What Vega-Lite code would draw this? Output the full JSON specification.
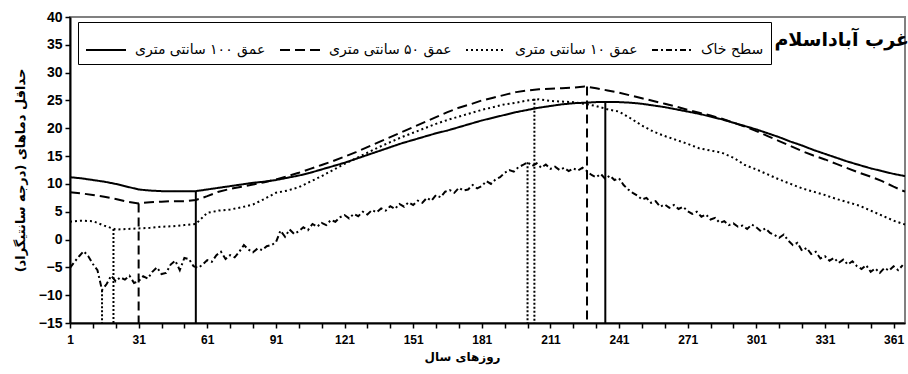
{
"$schema": "https://vega.github.io/schema/vega-lite/v6.json",
"width": 835, "height": 306,
"autosize": {"type": "none"},
"padding": {"left": 70, "top": 17, "right": 3, "bottom": 51},
"background": "white",
"config": {"view": {"stroke": "#808080", "strokeWidth": 2}, "font": "Liberation Sans", "axis": {"labelOverlap": false, "labelBound": false}},
"title": {"text": "غرب آباداسلام", "anchor": "end", "orient": "top", "offset": -40, "font": "DejaVu Sans", "fontSize": 19, "fontWeight": "bold", "color": "black"},
"datasets": {
"lines": [
{"s":"عمق ۱۰۰ سانتی متری","d":1,"v":11.2},{"s":"عمق ۱۰۰ سانتی متری","d":6,"v":11.0},{"s":"عمق ۱۰۰ سانتی متری","d":11,"v":10.7},{"s":"عمق ۱۰۰ سانتی متری","d":16,"v":10.4},{"s":"عمق ۱۰۰ سانتی متری","d":21,"v":10.0},{"s":"عمق ۱۰۰ سانتی متری","d":26,"v":9.5},{"s":"عمق ۱۰۰ سانتی متری","d":31,"v":9.0},{"s":"عمق ۱۰۰ سانتی متری","d":36,"v":8.8},{"s":"عمق ۱۰۰ سانتی متری","d":41,"v":8.7},{"s":"عمق ۱۰۰ سانتی متری","d":46,"v":8.7},{"s":"عمق ۱۰۰ سانتی متری","d":51,"v":8.7},{"s":"عمق ۱۰۰ سانتی متری","d":56,"v":8.7},{"s":"عمق ۱۰۰ سانتی متری","d":61,"v":9.0},{"s":"عمق ۱۰۰ سانتی متری","d":66,"v":9.3},{"s":"عمق ۱۰۰ سانتی متری","d":71,"v":9.6},{"s":"عمق ۱۰۰ سانتی متری","d":76,"v":9.9},{"s":"عمق ۱۰۰ سانتی متری","d":81,"v":10.2},{"s":"عمق ۱۰۰ سانتی متری","d":86,"v":10.4},{"s":"عمق ۱۰۰ سانتی متری","d":91,"v":10.7},{"s":"عمق ۱۰۰ سانتی متری","d":96,"v":11.1},{"s":"عمق ۱۰۰ سانتی متری","d":101,"v":11.5},{"s":"عمق ۱۰۰ سانتی متری","d":106,"v":12.0},{"s":"عمق ۱۰۰ سانتی متری","d":111,"v":12.6},{"s":"عمق ۱۰۰ سانتی متری","d":116,"v":13.2},{"s":"عمق ۱۰۰ سانتی متری","d":121,"v":13.8},{"s":"عمق ۱۰۰ سانتی متری","d":126,"v":14.5},{"s":"عمق ۱۰۰ سانتی متری","d":131,"v":15.2},{"s":"عمق ۱۰۰ سانتی متری","d":136,"v":15.9},{"s":"عمق ۱۰۰ سانتی متری","d":141,"v":16.6},{"s":"عمق ۱۰۰ سانتی متری","d":146,"v":17.3},{"s":"عمق ۱۰۰ سانتی متری","d":151,"v":17.9},{"s":"عمق ۱۰۰ سانتی متری","d":156,"v":18.5},{"s":"عمق ۱۰۰ سانتی متری","d":161,"v":19.1},{"s":"عمق ۱۰۰ سانتی متری","d":166,"v":19.6},{"s":"عمق ۱۰۰ سانتی متری","d":171,"v":20.2},{"s":"عمق ۱۰۰ سانتی متری","d":176,"v":20.8},{"s":"عمق ۱۰۰ سانتی متری","d":181,"v":21.4},{"s":"عمق ۱۰۰ سانتی متری","d":186,"v":21.9},{"s":"عمق ۱۰۰ سانتی متری","d":191,"v":22.4},{"s":"عمق ۱۰۰ سانتی متری","d":196,"v":22.9},{"s":"عمق ۱۰۰ سانتی متری","d":201,"v":23.3},{"s":"عمق ۱۰۰ سانتی متری","d":206,"v":23.7},{"s":"عمق ۱۰۰ سانتی متری","d":211,"v":24.0},{"s":"عمق ۱۰۰ سانتی متری","d":216,"v":24.3},{"s":"عمق ۱۰۰ سانتی متری","d":221,"v":24.5},{"s":"عمق ۱۰۰ سانتی متری","d":226,"v":24.6},{"s":"عمق ۱۰۰ سانتی متری","d":231,"v":24.7},{"s":"عمق ۱۰۰ سانتی متری","d":236,"v":24.7},{"s":"عمق ۱۰۰ سانتی متری","d":241,"v":24.7},{"s":"عمق ۱۰۰ سانتی متری","d":246,"v":24.6},{"s":"عمق ۱۰۰ سانتی متری","d":251,"v":24.4},{"s":"عمق ۱۰۰ سانتی متری","d":256,"v":24.1},{"s":"عمق ۱۰۰ سانتی متری","d":261,"v":23.8},{"s":"عمق ۱۰۰ سانتی متری","d":266,"v":23.4},{"s":"عمق ۱۰۰ سانتی متری","d":271,"v":23.0},{"s":"عمق ۱۰۰ سانتی متری","d":276,"v":22.6},{"s":"عمق ۱۰۰ سانتی متری","d":281,"v":22.1},{"s":"عمق ۱۰۰ سانتی متری","d":286,"v":21.6},{"s":"عمق ۱۰۰ سانتی متری","d":291,"v":21.0},{"s":"عمق ۱۰۰ سانتی متری","d":296,"v":20.4},{"s":"عمق ۱۰۰ سانتی متری","d":301,"v":19.8},{"s":"عمق ۱۰۰ سانتی متری","d":306,"v":19.1},{"s":"عمق ۱۰۰ سانتی متری","d":311,"v":18.4},{"s":"عمق ۱۰۰ سانتی متری","d":316,"v":17.6},{"s":"عمق ۱۰۰ سانتی متری","d":321,"v":16.9},{"s":"عمق ۱۰۰ سانتی متری","d":326,"v":16.1},{"s":"عمق ۱۰۰ سانتی متری","d":331,"v":15.4},{"s":"عمق ۱۰۰ سانتی متری","d":336,"v":14.7},{"s":"عمق ۱۰۰ سانتی متری","d":341,"v":14.0},{"s":"عمق ۱۰۰ سانتی متری","d":346,"v":13.4},{"s":"عمق ۱۰۰ سانتی متری","d":351,"v":12.8},{"s":"عمق ۱۰۰ سانتی متری","d":356,"v":12.3},{"s":"عمق ۱۰۰ سانتی متری","d":361,"v":11.8},{"s":"عمق ۱۰۰ سانتی متری","d":366,"v":11.4},
{"s":"عمق ۵۰ سانتی متری","d":1,"v":8.5},{"s":"عمق ۵۰ سانتی متری","d":6,"v":8.3},{"s":"عمق ۵۰ سانتی متری","d":11,"v":8.0},{"s":"عمق ۵۰ سانتی متری","d":16,"v":7.7},{"s":"عمق ۵۰ سانتی متری","d":21,"v":7.3},{"s":"عمق ۵۰ سانتی متری","d":26,"v":6.8},{"s":"عمق ۵۰ سانتی متری","d":31,"v":6.5},{"s":"عمق ۵۰ سانتی متری","d":36,"v":6.7},{"s":"عمق ۵۰ سانتی متری","d":41,"v":6.8},{"s":"عمق ۵۰ سانتی متری","d":46,"v":6.9},{"s":"عمق ۵۰ سانتی متری","d":51,"v":6.9},{"s":"عمق ۵۰ سانتی متری","d":56,"v":7.1},{"s":"عمق ۵۰ سانتی متری","d":61,"v":7.8},{"s":"عمق ۵۰ سانتی متری","d":66,"v":8.6},{"s":"عمق ۵۰ سانتی متری","d":71,"v":9.1},{"s":"عمق ۵۰ سانتی متری","d":76,"v":9.5},{"s":"عمق ۵۰ سانتی متری","d":81,"v":9.9},{"s":"عمق ۵۰ سانتی متری","d":86,"v":10.3},{"s":"عمق ۵۰ سانتی متری","d":91,"v":10.8},{"s":"عمق ۵۰ سانتی متری","d":96,"v":11.4},{"s":"عمق ۵۰ سانتی متری","d":101,"v":12.0},{"s":"عمق ۵۰ سانتی متری","d":106,"v":12.7},{"s":"عمق ۵۰ سانتی متری","d":111,"v":13.4},{"s":"عمق ۵۰ سانتی متری","d":116,"v":14.1},{"s":"عمق ۵۰ سانتی متری","d":121,"v":14.9},{"s":"عمق ۵۰ سانتی متری","d":126,"v":15.7},{"s":"عمق ۵۰ سانتی متری","d":131,"v":16.6},{"s":"عمق ۵۰ سانتی متری","d":136,"v":17.5},{"s":"عمق ۵۰ سانتی متری","d":141,"v":18.4},{"s":"عمق ۵۰ سانتی متری","d":146,"v":19.3},{"s":"عمق ۵۰ سانتی متری","d":151,"v":20.2},{"s":"عمق ۵۰ سانتی متری","d":156,"v":21.1},{"s":"عمق ۵۰ سانتی متری","d":161,"v":22.0},{"s":"عمق ۵۰ سانتی متری","d":166,"v":22.9},{"s":"عمق ۵۰ سانتی متری","d":171,"v":23.7},{"s":"عمق ۵۰ سانتی متری","d":176,"v":24.3},{"s":"عمق ۵۰ سانتی متری","d":181,"v":25.0},{"s":"عمق ۵۰ سانتی متری","d":186,"v":25.5},{"s":"عمق ۵۰ سانتی متری","d":191,"v":26.0},{"s":"عمق ۵۰ سانتی متری","d":196,"v":26.5},{"s":"عمق ۵۰ سانتی متری","d":201,"v":26.8},{"s":"عمق ۵۰ سانتی متری","d":206,"v":27.0},{"s":"عمق ۵۰ سانتی متری","d":211,"v":27.1},{"s":"عمق ۵۰ سانتی متری","d":216,"v":27.2},{"s":"عمق ۵۰ سانتی متری","d":221,"v":27.3},{"s":"عمق ۵۰ سانتی متری","d":226,"v":27.5},{"s":"عمق ۵۰ سانتی متری","d":231,"v":27.2},{"s":"عمق ۵۰ سانتی متری","d":236,"v":26.8},{"s":"عمق ۵۰ سانتی متری","d":241,"v":26.4},{"s":"عمق ۵۰ سانتی متری","d":246,"v":25.9},{"s":"عمق ۵۰ سانتی متری","d":251,"v":25.4},{"s":"عمق ۵۰ سانتی متری","d":256,"v":24.9},{"s":"عمق ۵۰ سانتی متری","d":261,"v":24.4},{"s":"عمق ۵۰ سانتی متری","d":266,"v":23.9},{"s":"عمق ۵۰ سانتی متری","d":271,"v":23.3},{"s":"عمق ۵۰ سانتی متری","d":276,"v":22.8},{"s":"عمق ۵۰ سانتی متری","d":281,"v":22.3},{"s":"عمق ۵۰ سانتی متری","d":286,"v":21.7},{"s":"عمق ۵۰ سانتی متری","d":291,"v":21.0},{"s":"عمق ۵۰ سانتی متری","d":296,"v":20.3},{"s":"عمق ۵۰ سانتی متری","d":301,"v":19.5},{"s":"عمق ۵۰ سانتی متری","d":306,"v":18.6},{"s":"عمق ۵۰ سانتی متری","d":311,"v":17.7},{"s":"عمق ۵۰ سانتی متری","d":316,"v":16.8},{"s":"عمق ۵۰ سانتی متری","d":321,"v":15.9},{"s":"عمق ۵۰ سانتی متری","d":326,"v":15.1},{"s":"عمق ۵۰ سانتی متری","d":331,"v":14.4},{"s":"عمق ۵۰ سانتی متری","d":336,"v":13.6},{"s":"عمق ۵۰ سانتی متری","d":341,"v":12.8},{"s":"عمق ۵۰ سانتی متری","d":346,"v":12.0},{"s":"عمق ۵۰ سانتی متری","d":351,"v":11.3},{"s":"عمق ۵۰ سانتی متری","d":356,"v":10.5},{"s":"عمق ۵۰ سانتی متری","d":361,"v":9.5},{"s":"عمق ۵۰ سانتی متری","d":366,"v":8.6},
{"s":"عمق ۱۰ سانتی متری","d":1,"v":3.2},{"s":"عمق ۱۰ سانتی متری","d":6,"v":3.4},{"s":"عمق ۱۰ سانتی متری","d":11,"v":3.3},{"s":"عمق ۱۰ سانتی متری","d":16,"v":2.5},{"s":"عمق ۱۰ سانتی متری","d":21,"v":1.8},{"s":"عمق ۱۰ سانتی متری","d":26,"v":1.9},{"s":"عمق ۱۰ سانتی متری","d":31,"v":2.0},{"s":"عمق ۱۰ سانتی متری","d":36,"v":2.1},{"s":"عمق ۱۰ سانتی متری","d":41,"v":2.3},{"s":"عمق ۱۰ سانتی متری","d":46,"v":2.4},{"s":"عمق ۱۰ سانتی متری","d":51,"v":2.6},{"s":"عمق ۱۰ سانتی متری","d":56,"v":2.8},{"s":"عمق ۱۰ سانتی متری","d":61,"v":4.8},{"s":"عمق ۱۰ سانتی متری","d":66,"v":5.2},{"s":"عمق ۱۰ سانتی متری","d":71,"v":5.4},{"s":"عمق ۱۰ سانتی متری","d":76,"v":5.8},{"s":"عمق ۱۰ سانتی متری","d":81,"v":6.3},{"s":"عمق ۱۰ سانتی متری","d":86,"v":7.3},{"s":"عمق ۱۰ سانتی متری","d":91,"v":8.4},{"s":"عمق ۱۰ سانتی متری","d":96,"v":8.8},{"s":"عمق ۱۰ سانتی متری","d":101,"v":9.4},{"s":"عمق ۱۰ سانتی متری","d":106,"v":10.4},{"s":"عمق ۱۰ سانتی متری","d":111,"v":11.4},{"s":"عمق ۱۰ سانتی متری","d":116,"v":12.5},{"s":"عمق ۱۰ سانتی متری","d":121,"v":13.6},{"s":"عمق ۱۰ سانتی متری","d":126,"v":14.6},{"s":"عمق ۱۰ سانتی متری","d":131,"v":15.6},{"s":"عمق ۱۰ سانتی متری","d":136,"v":16.6},{"s":"عمق ۱۰ سانتی متری","d":141,"v":17.5},{"s":"عمق ۱۰ سانتی متری","d":146,"v":18.4},{"s":"عمق ۱۰ سانتی متری","d":151,"v":19.2},{"s":"عمق ۱۰ سانتی متری","d":156,"v":20.0},{"s":"عمق ۱۰ سانتی متری","d":161,"v":20.8},{"s":"عمق ۱۰ سانتی متری","d":166,"v":21.5},{"s":"عمق ۱۰ سانتی متری","d":171,"v":22.1},{"s":"عمق ۱۰ سانتی متری","d":176,"v":22.7},{"s":"عمق ۱۰ سانتی متری","d":181,"v":23.3},{"s":"عمق ۱۰ سانتی متری","d":186,"v":23.8},{"s":"عمق ۱۰ سانتی متری","d":191,"v":24.3},{"s":"عمق ۱۰ سانتی متری","d":196,"v":24.6},{"s":"عمق ۱۰ سانتی متری","d":201,"v":25.0},{"s":"عمق ۱۰ سانتی متری","d":206,"v":25.2},{"s":"عمق ۱۰ سانتی متری","d":211,"v":24.9},{"s":"عمق ۱۰ سانتی متری","d":216,"v":24.8},{"s":"عمق ۱۰ سانتی متری","d":221,"v":24.7},{"s":"عمق ۱۰ سانتی متری","d":226,"v":24.4},{"s":"عمق ۱۰ سانتی متری","d":231,"v":24.0},{"s":"عمق ۱۰ سانتی متری","d":236,"v":23.4},{"s":"عمق ۱۰ سانتی متری","d":241,"v":23.0},{"s":"عمق ۱۰ سانتی متری","d":246,"v":21.8},{"s":"عمق ۱۰ سانتی متری","d":251,"v":20.5},{"s":"عمق ۱۰ سانتی متری","d":256,"v":19.4},{"s":"عمق ۱۰ سانتی متری","d":261,"v":18.6},{"s":"عمق ۱۰ سانتی متری","d":266,"v":17.9},{"s":"عمق ۱۰ سانتی متری","d":271,"v":17.2},{"s":"عمق ۱۰ سانتی متری","d":276,"v":16.4},{"s":"عمق ۱۰ سانتی متری","d":281,"v":16.0},{"s":"عمق ۱۰ سانتی متری","d":286,"v":15.6},{"s":"عمق ۱۰ سانتی متری","d":291,"v":14.7},{"s":"عمق ۱۰ سانتی متری","d":296,"v":13.4},{"s":"عمق ۱۰ سانتی متری","d":301,"v":12.6},{"s":"عمق ۱۰ سانتی متری","d":306,"v":11.7},{"s":"عمق ۱۰ سانتی متری","d":311,"v":10.8},{"s":"عمق ۱۰ سانتی متری","d":316,"v":10.0},{"s":"عمق ۱۰ سانتی متری","d":321,"v":9.2},{"s":"عمق ۱۰ سانتی متری","d":326,"v":8.6},{"s":"عمق ۱۰ سانتی متری","d":331,"v":8.0},{"s":"عمق ۱۰ سانتی متری","d":336,"v":7.3},{"s":"عمق ۱۰ سانتی متری","d":341,"v":6.7},{"s":"عمق ۱۰ سانتی متری","d":346,"v":6.1},{"s":"عمق ۱۰ سانتی متری","d":351,"v":5.2},{"s":"عمق ۱۰ سانتی متری","d":356,"v":4.3},{"s":"عمق ۱۰ سانتی متری","d":361,"v":3.4},{"s":"عمق ۱۰ سانتی متری","d":366,"v":2.7},
{"s":"سطح خاک","d":1,"v":-5.1},{"s":"سطح خاک","d":3,"v":-4.0},{"s":"سطح خاک","d":5,"v":-3.0},{"s":"سطح خاک","d":7,"v":-2.1},{"s":"سطح خاک","d":9,"v":-3.0},{"s":"سطح خاک","d":11,"v":-4.4},{"s":"سطح خاک","d":13,"v":-5.5},{"s":"سطح خاک","d":15,"v":-9.1},{"s":"سطح خاک","d":17,"v":-8.0},{"s":"سطح خاک","d":19,"v":-6.5},{"s":"سطح خاک","d":21,"v":-7.5},{"s":"سطح خاک","d":23,"v":-6.8},{"s":"سطح خاک","d":25,"v":-7.2},{"s":"سطح خاک","d":27,"v":-6.5},{"s":"سطح خاک","d":29,"v":-7.8},{"s":"سطح خاک","d":31,"v":-7.5},{"s":"سطح خاک","d":33,"v":-6.6},{"s":"سطح خاک","d":35,"v":-7.0},{"s":"سطح خاک","d":37,"v":-5.8},{"s":"سطح خاک","d":39,"v":-5.0},{"s":"سطح خاک","d":41,"v":-6.2},{"s":"سطح خاک","d":43,"v":-6.0},{"s":"سطح خاک","d":45,"v":-4.5},{"s":"سطح خاک","d":47,"v":-3.8},{"s":"سطح خاک","d":49,"v":-5.5},{"s":"سطح خاک","d":51,"v":-3.3},{"s":"سطح خاک","d":53,"v":-3.5},{"s":"سطح خاک","d":55,"v":-4.8},{"s":"سطح خاک","d":57,"v":-5.1},{"s":"سطح خاک","d":59,"v":-4.5},{"s":"سطح خاک","d":61,"v":-3.7},{"s":"سطح خاک","d":63,"v":-4.0},{"s":"سطح خاک","d":65,"v":-2.8},{"s":"سطح خاک","d":67,"v":-2.2},{"s":"سطح خاک","d":69,"v":-3.5},{"s":"سطح خاک","d":71,"v":-2.8},{"s":"سطح خاک","d":73,"v":-3.2},{"s":"سطح خاک","d":75,"v":-2.2},{"s":"سطح خاک","d":77,"v":-1.0},{"s":"سطح خاک","d":79,"v":-1.8},{"s":"سطح خاک","d":81,"v":-2.3},{"s":"سطح خاک","d":83,"v":-1.6},{"s":"سطح خاک","d":85,"v":-1.9},{"s":"سطح خاک","d":87,"v":-1.2},{"s":"سطح خاک","d":89,"v":-1.0},{"s":"سطح خاک","d":91,"v":-0.5},{"s":"سطح خاک","d":93,"v":1.6},{"s":"سطح خاک","d":95,"v":0.5},{"s":"سطح خاک","d":97,"v":1.8},{"s":"سطح خاک","d":99,"v":1.0},{"s":"سطح خاک","d":101,"v":1.5},{"s":"سطح خاک","d":103,"v":2.2},{"s":"سطح خاک","d":105,"v":1.7},{"s":"سطح خاک","d":107,"v":2.8},{"s":"سطح خاک","d":109,"v":2.3},{"s":"سطح خاک","d":111,"v":3.0},{"s":"سطح خاک","d":113,"v":2.6},{"s":"سطح خاک","d":115,"v":3.5},{"s":"سطح خاک","d":117,"v":3.2},{"s":"سطح خاک","d":119,"v":4.0},{"s":"سطح خاک","d":121,"v":4.4},{"s":"سطح خاک","d":123,"v":3.8},{"s":"سطح خاک","d":125,"v":4.6},{"s":"سطح خاک","d":127,"v":4.2},{"s":"سطح خاک","d":129,"v":5.0},{"s":"سطح خاک","d":131,"v":4.5},{"s":"سطح خاک","d":133,"v":5.3},{"s":"سطح خاک","d":135,"v":4.9},{"s":"سطح خاک","d":137,"v":5.6},{"s":"سطح خاک","d":139,"v":5.2},{"s":"سطح خاک","d":141,"v":6.0},{"s":"سطح خاک","d":143,"v":5.5},{"s":"سطح خاک","d":145,"v":6.4},{"s":"سطح خاک","d":147,"v":5.9},{"s":"سطح خاک","d":149,"v":6.7},{"s":"سطح خاک","d":151,"v":6.2},{"s":"سطح خاک","d":153,"v":7.0},{"s":"سطح خاک","d":155,"v":6.6},{"s":"سطح خاک","d":157,"v":7.5},{"s":"سطح خاک","d":159,"v":7.0},{"s":"سطح خاک","d":161,"v":8.0},{"s":"سطح خاک","d":163,"v":7.6},{"s":"سطح خاک","d":165,"v":8.6},{"s":"سطح خاک","d":167,"v":8.9},{"s":"سطح خاک","d":169,"v":8.4},{"s":"سطح خاک","d":171,"v":9.3},{"s":"سطح خاک","d":173,"v":8.8},{"s":"سطح خاک","d":175,"v":9.0},{"s":"سطح خاک","d":177,"v":9.8},{"s":"سطح خاک","d":179,"v":9.2},{"s":"سطح خاک","d":181,"v":9.6},{"s":"سطح خاک","d":183,"v":10.5},{"s":"سطح خاک","d":185,"v":10.0},{"s":"سطح خاک","d":187,"v":10.8},{"s":"سطح خاک","d":189,"v":11.2},{"s":"سطح خاک","d":191,"v":12.0},{"s":"سطح خاک","d":193,"v":12.5},{"s":"سطح خاک","d":195,"v":12.2},{"s":"سطح خاک","d":197,"v":13.0},{"s":"سطح خاک","d":199,"v":13.4},{"s":"سطح خاک","d":201,"v":13.9},{"s":"سطح خاک","d":203,"v":13.2},{"s":"سطح خاک","d":205,"v":13.7},{"s":"سطح خاک","d":207,"v":12.9},{"s":"سطح خاک","d":209,"v":13.5},{"s":"سطح خاک","d":211,"v":12.7},{"s":"سطح خاک","d":213,"v":13.1},{"s":"سطح خاک","d":215,"v":12.5},{"s":"سطح خاک","d":217,"v":12.9},{"s":"سطح خاک","d":219,"v":12.3},{"s":"سطح خاک","d":221,"v":12.8},{"s":"سطح خاک","d":223,"v":12.4},{"s":"سطح خاک","d":225,"v":12.9},{"s":"سطح خاک","d":227,"v":12.3},{"s":"سطح خاک","d":229,"v":11.6},{"s":"سطح خاک","d":231,"v":11.2},{"s":"سطح خاک","d":233,"v":11.8},{"s":"سطح خاک","d":235,"v":10.9},{"s":"سطح خاک","d":237,"v":11.5},{"s":"سطح خاک","d":239,"v":10.7},{"s":"سطح خاک","d":241,"v":11.0},{"s":"سطح خاک","d":243,"v":9.8},{"s":"سطح خاک","d":245,"v":9.0},{"s":"سطح خاک","d":247,"v":8.4},{"s":"سطح خاک","d":249,"v":7.9},{"s":"سطح خاک","d":251,"v":7.2},{"s":"سطح خاک","d":253,"v":7.5},{"s":"سطح خاک","d":255,"v":6.6},{"s":"سطح خاک","d":257,"v":6.9},{"s":"سطح خاک","d":259,"v":5.9},{"s":"سطح خاک","d":261,"v":6.3},{"s":"سطح خاک","d":263,"v":5.7},{"s":"سطح خاک","d":265,"v":6.2},{"s":"سطح خاک","d":267,"v":5.5},{"s":"سطح خاک","d":269,"v":5.9},{"s":"سطح خاک","d":271,"v":5.1},{"s":"سطح خاک","d":273,"v":4.6},{"s":"سطح خاک","d":275,"v":5.0},{"s":"سطح خاک","d":277,"v":4.1},{"s":"سطح خاک","d":279,"v":4.5},{"s":"سطح خاک","d":281,"v":3.6},{"s":"سطح خاک","d":283,"v":3.9},{"s":"سطح خاک","d":285,"v":3.0},{"s":"سطح خاک","d":287,"v":3.3},{"s":"سطح خاک","d":289,"v":2.6},{"s":"سطح خاک","d":291,"v":2.9},{"s":"سطح خاک","d":293,"v":2.3},{"s":"سطح خاک","d":295,"v":2.5},{"s":"سطح خاک","d":297,"v":1.9},{"s":"سطح خاک","d":299,"v":2.7},{"s":"سطح خاک","d":301,"v":2.2},{"s":"سطح خاک","d":303,"v":1.5},{"s":"سطح خاک","d":305,"v":2.0},{"s":"سطح خاک","d":307,"v":1.2},{"s":"سطح خاک","d":309,"v":0.8},{"s":"سطح خاک","d":311,"v":0.3},{"s":"سطح خاک","d":313,"v":0.9},{"s":"سطح خاک","d":315,"v":-0.2},{"s":"سطح خاک","d":317,"v":-1.0},{"s":"سطح خاک","d":319,"v":-0.6},{"s":"سطح خاک","d":321,"v":-2.0},{"s":"سطح خاک","d":323,"v":-1.5},{"s":"سطح خاک","d":325,"v":-2.6},{"s":"سطح خاک","d":327,"v":-2.2},{"s":"سطح خاک","d":329,"v":-3.4},{"s":"سطح خاک","d":331,"v":-3.0},{"s":"سطح خاک","d":333,"v":-3.8},{"s":"سطح خاک","d":335,"v":-3.3},{"s":"سطح خاک","d":337,"v":-4.2},{"s":"سطح خاک","d":339,"v":-3.6},{"s":"سطح خاک","d":341,"v":-4.5},{"s":"سطح خاک","d":343,"v":-3.9},{"s":"سطح خاک","d":345,"v":-4.8},{"s":"سطح خاک","d":347,"v":-5.3},{"s":"سطح خاک","d":349,"v":-4.6},{"s":"سطح خاک","d":351,"v":-5.8},{"s":"سطح خاک","d":353,"v":-5.2},{"s":"سطح خاک","d":355,"v":-6.0},{"s":"سطح خاک","d":357,"v":-5.1},{"s":"سطح خاک","d":359,"v":-5.6},{"s":"سطح خاک","d":361,"v":-4.8},{"s":"سطح خاک","d":363,"v":-5.5},{"s":"سطح خاک","d":365,"v":-4.6}
],
"marks": [
{"s":"سطح خاک","d":15,"v":-9.1},{"s":"عمق ۱۰ سانتی متری","d":20,"v":1.9},{"s":"عمق ۵۰ سانتی متری","d":31,"v":6.5},{"s":"عمق ۱۰۰ سانتی متری","d":56,"v":8.7},
{"s":"سطح خاک","d":201,"v":13.9},{"s":"عمق ۱۰ سانتی متری","d":204,"v":25.3},{"s":"عمق ۵۰ سانتی متری","d":227,"v":27.5},{"s":"عمق ۱۰۰ سانتی متری","d":235,"v":24.7}
]
},
"encoding": {
"x": {"field": "d", "type": "quantitative",
"scale": {"domain": [1, 366], "nice": false, "zero": false},
"axis": {"values": [1,11,21,31,41,51,61,71,81,91,101,111,121,131,141,151,161,171,181,191,201,211,221,231,241,251,261,271,281,291,301,311,321,331,341,351,361],
"labelExpr": "indexof([1,31,61,91,121,151,181,211,241,271,301,331,361], datum.value) >= 0 ? datum.label : ''",
"grid": false, "domainColor": "black", "domainWidth": 2, "tickColor": "black", "tickWidth": 1.5, "tickSize": 5,
"labelFont": "Liberation Sans", "labelFontSize": 12, "labelFontWeight": "bold", "labelColor": "black", "labelPadding": 6, "labelFlush": false, "labelOverlap": false,
"title": "روزهای سال", "titleFont": "DejaVu Sans", "titleFontSize": 12, "titleFontWeight": "bold", "titleColor": "black", "titlePadding": 6, "titleX": 392, "zindex": 1}},
"y": {"field": "v", "type": "quantitative",
"scale": {"domain": [-15, 40], "nice": false, "zero": false},
"axis": {"values": [-15,-10,-5,0,5,10,15,20,25,30,35,40], "grid": false, "domainColor": "black", "domainWidth": 2, "tickColor": "black", "tickWidth": 1.5, "tickSize": 5,
"labelFont": "Liberation Sans", "labelFontSize": 14, "labelFontWeight": "bold", "labelColor": "black", "labelPadding": 3, "labelFlush": false, "labelOverlap": false,
"title": "حداقل دماهای (درجه سانتیگراد)", "titleFont": "DejaVu Sans", "titleFontSize": 13, "titleFontWeight": "bold", "titleColor": "black", "titlePadding": 11, "zindex": 1}}
},
"layer": [
{
"data": {"name": "lines"},
"mark": {"type": "line", "strokeWidth": 2, "color": "black"},
"encoding": {
"strokeDash": {"field": "s", "type": "nominal",
"scale": {"domain": ["عمق ۱۰۰ سانتی متری", "عمق ۵۰ سانتی متری", "عمق ۱۰ سانتی متری", "سطح خاک"], "range": [[1, 0], [10, 5], [2, 3], [6, 3, 2, 3]]},
"legend": {"orient": "none", "legendX": 8, "legendY": 5, "direction": "horizontal", "title": null,
"symbolType": "stroke", "symbolSize": 1600, "symbolStrokeWidth": 2, "symbolStrokeColor": "black",
"labelFont": "DejaVu Sans", "labelFontSize": 14, "labelColor": "black", "labelLimit": 300, "labelOffset": 8,
"columnPadding": 10, "padding": 7, "strokeColor": "black", "fillColor": "white"}}
}
},
{
"data": {"name": "marks"},
"mark": {"type": "rule", "strokeWidth": 2, "color": "black"},
"encoding": {
"y2": {"datum": -15},
"strokeDash": {"field": "s", "type": "nominal",
"scale": {"domain": ["عمق ۱۰۰ سانتی متری", "عمق ۵۰ سانتی متری", "عمق ۱۰ سانتی متری", "سطح خاک"], "range": [[1, 0], [9, 5], [2, 2], [2, 2]]},
"legend": null}
}
}
],
"resolve": {"scale": {"strokeDash": "independent"}}
}
